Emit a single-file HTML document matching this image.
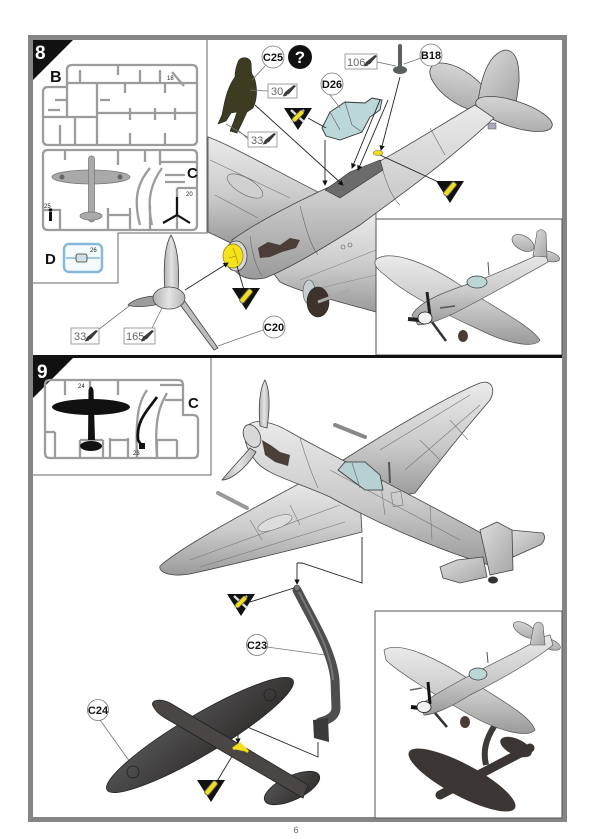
<!DOCTYPE html>
<html><head><meta charset="utf-8"><style>
html,body{margin:0;padding:0;background:#fff;}
svg{display:block;}
text{font-family:"Liberation Sans",sans-serif;}
</style></head><body>
<svg width="600" height="839" viewBox="0 0 600 839" xmlns="http://www.w3.org/2000/svg">
<defs>
<linearGradient id="m1" x1="0" y1="0" x2="0" y2="1"><stop offset="0" stop-color="#eaeaea"/><stop offset="0.55" stop-color="#cacaca"/><stop offset="1" stop-color="#9a9a9a"/></linearGradient>
<linearGradient id="m2" x1="0" y1="0" x2="1" y2="1"><stop offset="0" stop-color="#dcdcdc"/><stop offset="1" stop-color="#a6a6a6"/></linearGradient>
<linearGradient id="m3" x1="0" y1="0" x2="1" y2="0"><stop offset="0" stop-color="#b0b0b0"/><stop offset="0.5" stop-color="#e4e4e4"/><stop offset="1" stop-color="#b4b4b4"/></linearGradient>
<linearGradient id="dk" x1="0" y1="0" x2="1" y2="1"><stop offset="0" stop-color="#555"/><stop offset="1" stop-color="#2f2c2b"/></linearGradient>
<g id="brush"><path d="M0,10 L2,6 L11,-1 L13,0 L6,8 Z" fill="#3a3a3a"/><path d="M0,10 L4,9" stroke="#3a3a3a" stroke-width="1"/></g>
<g id="glue"><polygon points="0,0 28,0 14,22" fill="#111"/><g transform="translate(14,8) rotate(-50)"><rect x="-8" y="-2.6" width="16" height="5.2" rx="2" fill="#f2df1c" stroke="#666" stroke-width="1"/></g></g>
<g id="gluex"><polygon points="0,0 28,0 14,22" fill="#111"/><path d="M7,2 L20,14 M20,2 L7,14" stroke="#ddd" stroke-width="2.5"/><g transform="translate(14,8) rotate(-45)"><rect x="-7" y="-2.3" width="14" height="4.6" rx="2" fill="#f2df1c" stroke="#666" stroke-width="0.8"/></g></g>
<marker id="ar" markerWidth="6" markerHeight="6" refX="5" refY="3" orient="auto"><path d="M0,0 L6,3 L0,6 Z" fill="#111"/></marker>
</defs>

<!-- frame -->
<rect x="30.5" y="37.5" width="534" height="782" fill="none" stroke="#858585" stroke-width="5"/>

<!-- ===== STEP 8 ===== -->
<path d="M207,40 V233 H118 V283 H33" fill="none" stroke="#666" stroke-width="1"/>
<polygon points="33,40 73,40 33,80" fill="#111"/>
<text x="35" y="59" font-size="19" font-weight="bold" fill="#fff">8</text>

<!-- sprue B -->
<g fill="none" stroke="#9c9c9c" stroke-width="2.3">
<path d="M72,65 H192 Q197,65 197,70 V140 Q197,145 192,145 H48 Q43,145 43,140 V92 Q43,87 48,87 H67 V70 Q67,65 72,65 Z"/>
<path d="M67,83 H197 M97,83 V145 M97,113 H197 M43,117 H97 M67,87 V117 M75,117 V145 M60,125 V145"/>
<path d="M80,70 V83 M118,66 V75 M140,70 V83 M160,70 V83 M110,100 H100 M130,108 V120 M155,108 V120 M175,108 V120 M125,83 V93 M165,83 V93 M130,133 V145 M165,133 V145 M55,100 H67 M48,110 H60 M172,72 L184,86"/>
</g>
<text x="50" y="82" font-size="16" font-weight="bold" fill="#111">B</text>
<text x="167" y="80" font-size="6" fill="#222">18</text>

<!-- sprue C -->
<g fill="none" stroke="#9c9c9c" stroke-width="2.3">
<path d="M48,150 H192 Q197,150 197,155 V225 Q197,230 192,230 H48 Q43,230 43,225 V155 Q43,150 48,150 Z"/>
<path d="M65,150 V160 M118,150 V165 M145,150 V162 M160,150 V165 M160,162 H197 M165,175 H185 M165,182 H185 M177,188 V230 M177,188 H197"/>
<path d="M43,210 H60 V230 M108,208 V230 M108,215 H130 M130,208 V230 M150,205 V230"/>
<path d="M150,168 C140,180 132,195 140,225 M162,168 C152,182 146,198 152,225"/>
</g>
<g>
<ellipse cx="91" cy="177" rx="39" ry="7" fill="#a9a9a9" stroke="#7a7a7a" stroke-width="0.8"/>
<rect x="88.5" y="156" width="6" height="66" rx="3" fill="#a9a9a9" stroke="#7a7a7a" stroke-width="0.8"/>
<ellipse cx="91" cy="216" rx="11" ry="4" fill="#a9a9a9" stroke="#7a7a7a" stroke-width="0.8"/>
<circle cx="62" cy="177" r="2.5" fill="#666"/><circle cx="120" cy="177" r="2.5" fill="#666"/>
</g>
<text x="187" y="178" font-size="15" font-weight="bold" fill="#111">C</text>
<text x="186" y="196" font-size="6" fill="#222">20</text>
<path d="M177,215 V197 M177,215 L163,223 M177,215 L190,223" stroke="#111" stroke-width="2.2"/>
<text x="44" y="208" font-size="6" fill="#222">25</text>
<rect x="49" y="212" width="3" height="9" fill="#111"/><circle cx="50.5" cy="210" r="1.8" fill="#111"/>
<!-- D -->
<text x="45" y="264" font-size="15" font-weight="bold" fill="#111">D</text>
<rect x="64" y="244" width="38" height="28" rx="5" fill="#f4f9fc" stroke="#86b9d9" stroke-width="2.5"/>
<path d="M66,258 H100" stroke="#86b9d9" stroke-width="1.5"/>
<rect x="76" y="254" width="11" height="8" rx="2" fill="#cfe1e6" stroke="#333" stroke-width="0.8"/>
<text x="90" y="252" font-size="6" fill="#222">26</text>

<!-- Step 8 main aircraft -->
<path d="M208,137 C230,145 265,165 320,193 L300,210 C275,222 250,235 235,245 L208,232 Z" fill="url(#m1)" stroke="#444" stroke-width="0.8"/>
<ellipse cx="245" cy="186" rx="20" ry="8" transform="rotate(30 245 186)" fill="#d0d0d0" stroke="#666" stroke-width="0.6"/>
<path d="M210,160 L290,198 M215,195 L258,218" stroke="#777" stroke-width="0.6" fill="none"/>
<path d="M268,266 C310,246 345,228 376,212 L376,312 C340,302 300,292 280,282 Z" fill="url(#m1)" stroke="#444" stroke-width="0.8"/>
<path d="M300,280 L376,250 M320,288 L376,275" stroke="#888" stroke-width="0.6"/>
<circle cx="343" cy="247" r="2" fill="none" stroke="#555" stroke-width="0.6"/><circle cx="350" cy="245" r="2" fill="none" stroke="#555" stroke-width="0.6"/>
<ellipse cx="460" cy="87" rx="35" ry="16" transform="rotate(35 460 87)" fill="url(#m2)" stroke="#444" stroke-width="0.8"/>
<path d="M478,102 Q484,55 505,50 Q520,50 519,82 L516,104 Z" fill="url(#m2)" stroke="#444" stroke-width="0.8"/>
<ellipse cx="514" cy="114" rx="40" ry="13" transform="rotate(18 514 114)" fill="url(#m2)" stroke="#444" stroke-width="0.8"/>
<rect x="488" y="123" width="8" height="6" fill="#aab" stroke="#555" stroke-width="0.5"/>
<path d="M232,240 C260,220 300,200 340,182 C390,158 440,125 475,105 L494,118 C450,160 400,195 360,225 C320,250 290,268 265,278 C245,282 232,274 230,258 Z" fill="url(#m1)" stroke="#444" stroke-width="0.8"/>
<path d="M250,236 C252,252 255,265 262,276 M300,206 C305,225 310,245 318,255 M380,160 C385,180 392,198 400,205 M430,128 L445,155" stroke="#666" stroke-width="0.6" fill="none"/>
<path d="M258,248 L268,242 L280,245 L290,238 L300,240 L296,248 L282,252 L270,257 L260,258 Z" fill="#4b3e38"/>
<path d="M325,190 L350,172 L380,160 L383,170 L360,185 L340,198 Z" fill="#6b6b6b" stroke="#333" stroke-width="0.6"/>
<ellipse cx="378" cy="153" rx="5" ry="2.5" fill="#f2df1c" stroke="#555" stroke-width="0.5"/>
<ellipse cx="236" cy="256" rx="11" ry="15" fill="#d8d8d8" stroke="#444" stroke-width="0.8"/>
<ellipse cx="233" cy="256" rx="10" ry="12" fill="#f5e21b" stroke="#8a7d10" stroke-width="0.7"/>
<path d="M233,248 L236,256 L229,258 M236,256 L238,264" stroke="#a89a15" stroke-width="0.8" fill="none"/>
<ellipse cx="309" cy="292" rx="6" ry="12" fill="#c4cdd2" stroke="#555" stroke-width="0.6"/>
<ellipse cx="318" cy="302" rx="11" ry="15" fill="#3e322d" stroke="#222" stroke-width="0.6"/>
<path d="M318,302 L350,290" stroke="#aaa" stroke-width="3"/>

<!-- pilot -->
<path d="M238,62 C240,56 250,56 251,63 C252,69 250,73 254,77 C258,88 257,100 253,108 L247,112 L241,125 L237,133 L230,131 L234,121 L237,112 L231,113 L226,121 L218,124 L222,115 L224,105 C226,95 229,85 235,77 C235,72 236,67 238,62 Z" fill="#3d3b20" stroke="#222" stroke-width="0.6"/>
<!-- canopy D26 -->
<path d="M322,128 L330,112 L345,102 L365,103 L372,98 L382,100 L380,110 L370,117 L362,132 L340,140 L326,136 Z" fill="#bcd7d8" stroke="#333" stroke-width="0.9"/>
<path d="M330,112 L340,130 M345,102 L352,125 L362,132" stroke="#556" stroke-width="0.6" fill="none"/>
<rect x="398" y="44" width="4" height="24" rx="2" fill="#5a6060"/>
<ellipse cx="400" cy="70" rx="7" ry="4" fill="#5a6060"/>

<g stroke="#222" stroke-width="0.9" fill="none">
<path d="M255,105 L343,185" marker-end="url(#ar)"/>
<path d="M325,140 L325,185" marker-end="url(#ar)"/>
<path d="M388,100 L358,170" marker-end="url(#ar)"/>
<path d="M380,100 L352,168" marker-end="url(#ar)"/>
<path d="M400,77 L381,150" marker-end="url(#ar)"/>
<path d="M308,118 L326,128"/>
<path d="M380,155 L445,185"/>
<path d="M185,290 L228,263" marker-end="url(#ar)"/>
<path d="M237,266 L244,290"/>
</g>
<g stroke="#777" stroke-width="0.8" fill="none">
<path d="M266,65 L252,80"/><path d="M268,91 L250,90"/><path d="M249,138 L226,124 M249,140 L238,130"/>
<path d="M377,62 L396,66"/><path d="M421,58 L404,64"/><path d="M330,95 L340,108"/>
<path d="M263,330 L218,346"/><path d="M90,336 L137,300"/><path d="M148,336 L166,300"/>
</g>
<g font-size="11" font-weight="bold" fill="#111" text-anchor="middle">
<circle cx="273" cy="57" r="11" fill="#fff" stroke="#777" stroke-width="0.8"/><text x="273" y="61">C25</text>
<circle cx="332" cy="84" r="11" fill="#fff" stroke="#777" stroke-width="0.8"/><text x="332" y="88">D26</text>
<circle cx="431" cy="55" r="11" fill="#fff" stroke="#777" stroke-width="0.8"/><text x="431" y="59">B18</text>
<circle cx="274" cy="327" r="11" fill="#fff" stroke="#777" stroke-width="0.8"/><text x="274" y="331">C20</text>
</g>
<circle cx="300" cy="57" r="12" fill="#111"/>
<text x="300" y="63" font-size="17" font-weight="bold" fill="#fff" text-anchor="middle">?</text>
<g font-size="11" fill="#666">
<rect x="268" y="84" width="29" height="14" fill="#fff" stroke="#888" stroke-width="0.8"/><text x="271" y="95">30</text><use href="#brush" x="283" y="86"/>
<rect x="248" y="132" width="29" height="15" fill="#fff" stroke="#888" stroke-width="0.8"/><text x="251" y="144">33</text><use href="#brush" x="263" y="134"/>
<rect x="345" y="54" width="32" height="15" fill="#fff" stroke="#888" stroke-width="0.8"/><text x="347" y="66">106</text><use href="#brush" x="364" y="56"/>
<rect x="71" y="328" width="28" height="16" fill="#fff" stroke="#888" stroke-width="0.8"/><text x="74" y="340">33</text><use href="#brush" x="85" y="331"/>
<rect x="124" y="328" width="31" height="16" fill="#fff" stroke="#888" stroke-width="0.8"/><text x="126" y="340">165</text><use href="#brush" x="141" y="331"/>
</g>
<use href="#gluex" x="284" y="108"/>
<use href="#glue" x="436" y="181"/>
<use href="#glue" x="232" y="288"/>

<!-- propeller C20 -->
<path d="M165,292 C163,265 165,245 171,235 C177,245 180,265 178,292 Z" fill="url(#m3)" stroke="#444" stroke-width="0.8"/>
<path d="M157,296 C145,296 132,300 128,305 C135,308 150,306 160,304 Z" fill="#9d9d9d" stroke="#444" stroke-width="0.8"/>
<path d="M178,302 L214,350 L218,348 L184,300 Z" fill="#bdbdbd" stroke="#444" stroke-width="0.8"/>
<ellipse cx="169" cy="298" rx="16" ry="11" fill="url(#m3)" stroke="#444" stroke-width="0.8"/>

<!-- step 8 inset -->
<rect x="376" y="219" width="186" height="136" fill="#fff" stroke="#555" stroke-width="1"/>
<path d="M378,258 C395,250 430,265 460,285 C490,305 530,325 540,340 C535,348 510,345 480,330 C440,312 400,290 385,275 C375,268 372,262 378,258 Z" fill="url(#m1)" stroke="#555" stroke-width="0.7"/>
<ellipse cx="523" cy="243" rx="12" ry="7" transform="rotate(30 523 243)" fill="url(#m2)" stroke="#555" stroke-width="0.6"/>
<ellipse cx="547" cy="256" rx="13" ry="5" transform="rotate(15 547 256)" fill="url(#m2)" stroke="#555" stroke-width="0.6"/>
<path d="M412,315 C420,300 450,290 480,280 C510,268 530,258 545,252 L548,262 C525,275 495,292 470,305 C450,316 430,325 418,325 Z" fill="url(#m1)" stroke="#555" stroke-width="0.7"/>
<path d="M533,256 L537,232 Q542,227 546,233 L547,257 Z" fill="url(#m2)" stroke="#555" stroke-width="0.6"/>
<ellipse cx="477" cy="282" rx="10" ry="6" fill="#bcd6d6" stroke="#333" stroke-width="0.7"/>
<path d="M488,262 L489,275" stroke="#555" stroke-width="1"/>
<path d="M427,292 L430,316" stroke="#222" stroke-width="3"/>
<path d="M432,322 L446,341" stroke="#333" stroke-width="2.5"/>
<path d="M408,319 L420,320" stroke="#222" stroke-width="4"/>
<ellipse cx="425" cy="318" rx="7" ry="6" fill="#f2f2f2" stroke="#222" stroke-width="0.8"/>
<path d="M440,308 L455,306" stroke="#555" stroke-width="1.5"/>
<ellipse cx="463" cy="336" rx="5" ry="6" fill="#4a3c35"/>

<!-- ===== STEP 9 ===== -->
<path d="M33,356.5 H562" stroke="#111" stroke-width="3"/>
<polygon points="33,358 73,358 33,398" fill="#111"/>
<text x="37" y="378" font-size="19" font-weight="bold" fill="#fff">9</text>
<path d="M211,358 V475 H33" fill="none" stroke="#666" stroke-width="1"/>
<g fill="none" stroke="#9c9c9c" stroke-width="2.3">
<path d="M50,380 H178 Q183,380 183,385 V415 H193 Q198,415 198,420 V453 Q198,458 193,458 H50 Q45,458 45,453 V385 Q45,380 50,380 Z"/>
<path d="M65,380 V395 M90,380 V390 M118,380 V395 M45,432 H55 M55,432 V458 M80,440 V458 M103,440 V458 M80,440 H103 M110,438 V458 M128,438 V458 M110,440 H128 M157,440 V458 M177,440 V458 M157,440 H177"/>
<path d="M147,390 C140,400 135,412 137,457 M167,393 C160,405 154,418 157,457"/>
<path d="M160,385 H183 M165,400 H183"/>
</g>
<ellipse cx="91" cy="407" rx="39" ry="8" fill="#111"/>
<path d="M88.5,390 Q91,383 93.5,390 L95,440 L88,440 Z" fill="#111"/>
<ellipse cx="91" cy="446" rx="11" ry="5" fill="#111"/>
<text x="78" y="388" font-size="6" fill="#222">24</text>
<path d="M157,397 C148,410 136,420 138,440 L142,446" fill="none" stroke="#111" stroke-width="2.8"/>
<rect x="139" y="443" width="6" height="6" fill="#111"/>
<text x="133" y="455" font-size="6" fill="#222">23</text>
<text x="188" y="408" font-size="15" font-weight="bold" fill="#111">C</text>

<!-- step 9 main aircraft -->
<path d="M340,462 C390,430 450,395 480,383 C492,379 496,390 490,400 C460,435 440,460 415,493 L395,497 Z" fill="url(#m1)" stroke="#444" stroke-width="0.8"/>
<path d="M380,450 L470,395 M405,470 L480,405 M420,440 L440,460 M450,420 L468,440" stroke="#777" stroke-width="0.6" fill="none"/>
<path d="M335,425 L365,437" stroke="#888" stroke-width="4" stroke-linecap="round"/>
<path d="M160,566 C180,548 240,515 310,478 L360,500 L362,532 C300,548 230,565 190,574 C172,577 158,573 160,566 Z" fill="url(#m1)" stroke="#444" stroke-width="0.8"/>
<path d="M190,560 L340,505 M200,567 L345,522 M250,520 L262,540 M290,505 L300,525" stroke="#777" stroke-width="0.6" fill="none"/>
<ellipse cx="275" cy="523" rx="18" ry="6" transform="rotate(-20 275 523)" fill="#dcdcdc" stroke="#666" stroke-width="0.5"/>
<path d="M218,493 L247,508" stroke="#999" stroke-width="4" stroke-linecap="round"/>
<path d="M510,530 L543,533 C546,537 544,543 540,545 L513,557 Z" fill="url(#m2)" stroke="#444" stroke-width="0.8"/>
<path d="M247,428 C250,418 270,420 290,432 C330,455 400,488 503,545 L500,568 C450,555 380,525 330,497 C300,483 265,475 255,460 C245,448 243,436 247,428 Z" fill="url(#m1)" stroke="#444" stroke-width="0.8"/>
<path d="M300,438 C305,455 310,470 318,488 M380,478 L385,515 M430,505 L432,540 M330,470 L460,540" stroke="#777" stroke-width="0.6" fill="none"/>
<rect x="392" y="492" width="10" height="14" transform="rotate(-10 397 499)" fill="none" stroke="#777" stroke-width="0.6"/>
<path d="M480,530 L497,522 L512,530 L513,570 L490,575 Z" fill="url(#m2)" stroke="#444" stroke-width="0.8"/>
<path d="M440,567 L457,560 L483,557 L487,577 L460,583 L443,578 Z" fill="url(#m2)" stroke="#444" stroke-width="0.8"/>
<ellipse cx="493" cy="580" rx="5" ry="3.5" fill="#333"/>
<path d="M262,440 L272,446 L280,452 L290,455 L288,466 L275,462 L265,455 Z" fill="#4b3f3a"/>
<path d="M338,470 L345,462 L365,462 L380,475 L383,490 L365,490 Z" fill="#b7d1d3" stroke="#333" stroke-width="0.8"/>
<path d="M352,463 L360,488" stroke="#567" stroke-width="0.6"/>
<path d="M389,462 L390,483" stroke="#555" stroke-width="2"/>
<path d="M260,426 C258,405 260,388 265,380 C270,390 270,408 267,428 Z" fill="url(#m3)" stroke="#444" stroke-width="0.8"/>
<path d="M250,448 C240,460 228,472 222,480 C230,480 245,470 256,452 Z" fill="url(#m3)" stroke="#444" stroke-width="0.8"/>
<ellipse cx="252" cy="436" rx="8" ry="12" fill="#d8d8d8" stroke="#444" stroke-width="0.8" transform="rotate(-25 252 436)"/>

<g stroke="#222" stroke-width="0.9" fill="none">
<path d="M297,563 L297,584" marker-end="url(#ar)"/>
<path d="M297,563 H302 L362,583 V537"/>
<path d="M318,742 V757 L238,723 V743" marker-end="url(#ar)"/>
<path d="M297,587 L250,602"/>
<path d="M237,748 L213,788"/>
</g>
<g stroke="#777" stroke-width="0.8" fill="none">
<path d="M267,647 L325,655"/><path d="M100,720 L130,762"/>
</g>
<path d="M297,590 C312,620 332,650 335,680 L336,708 C336,716 328,720 320,722" fill="none" stroke="#4e4e4e" stroke-width="9" stroke-linecap="round"/>
<path d="M299,592 C313,620 331,650 333,680" fill="none" stroke="#777" stroke-width="2"/>
<path d="M313,720 L328,718 L329,742 L314,738 Z" fill="#3a3a3a"/>
<circle cx="297" cy="588" r="3" fill="#777" stroke="#333" stroke-width="0.6"/>

<ellipse cx="200" cy="735" rx="108" ry="20" transform="rotate(-30.6 200 735)" fill="url(#dk)" stroke="#222" stroke-width="0.8"/>
<ellipse cx="292" cy="788" rx="30" ry="12" transform="rotate(-25 292 788)" fill="url(#dk)" stroke="#222" stroke-width="0.8"/>
<path d="M153,706 C150,700 160,698 170,703 L308,785 L303,798 L165,718 C158,714 155,710 153,706 Z" fill="#4a4644" stroke="#222" stroke-width="0.8"/>
<circle cx="133" cy="772" r="6" fill="none" stroke="#222" stroke-width="0.8"/>
<circle cx="270" cy="695" r="6" fill="none" stroke="#222" stroke-width="0.8"/>
<path d="M233,749 L240,744 L248,752" fill="#f2df1c" stroke="#f2df1c" stroke-width="3"/>
<use href="#gluex" x="227" y="594"/>
<use href="#glue" x="197" y="780"/>

<g font-size="11" font-weight="bold" fill="#111" text-anchor="middle">
<circle cx="257" cy="645" r="10.5" fill="#fff" stroke="#777" stroke-width="0.8"/><text x="257" y="649">C23</text>
<circle cx="98" cy="710" r="10.5" fill="#fff" stroke="#777" stroke-width="0.8"/><text x="98" y="714">C24</text>
</g>

<!-- step 9 inset -->
<rect x="375" y="611" width="187" height="207" fill="#fff" stroke="#555" stroke-width="1"/>
<ellipse cx="462" cy="780" rx="60" ry="16" transform="rotate(28 462 780)" fill="#3b3633"/>
<path d="M440,795 L530,748" stroke="#3b3633" stroke-width="9" stroke-linecap="round"/>
<ellipse cx="516" cy="747" rx="17" ry="8" transform="rotate(25 516 747)" fill="#3b3633"/>
<path d="M495,725 C485,740 483,752 486,765" fill="none" stroke="#3e3a38" stroke-width="6"/>
<path d="M384,650 C400,640 440,660 470,680 C500,700 530,715 535,730 C528,738 500,732 470,715 C435,695 395,670 386,660 Z" fill="url(#m1)" stroke="#555" stroke-width="0.7"/>
<ellipse cx="525" cy="630" rx="13" ry="6" transform="rotate(30 525 630)" fill="url(#m2)" stroke="#555" stroke-width="0.6"/>
<ellipse cx="549" cy="644" rx="12" ry="5" transform="rotate(20 549 644)" fill="url(#m2)" stroke="#555" stroke-width="0.6"/>
<path d="M420,705 C440,690 480,670 510,655 C530,645 545,635 550,635 L553,645 C535,660 500,680 470,695 C450,708 432,715 424,715 Z" fill="url(#m1)" stroke="#555" stroke-width="0.7"/>
<path d="M530,645 L534,625 Q539,619 543,625 L545,645 Z" fill="url(#m2)" stroke="#555" stroke-width="0.6"/>
<ellipse cx="478" cy="674" rx="9" ry="6" fill="#bcd6d6" stroke="#333" stroke-width="0.7"/>
<path d="M487,652 L488,663" stroke="#555" stroke-width="1"/>
<path d="M428,682 L430,704" stroke="#111" stroke-width="3"/>
<path d="M435,713 L447,727" stroke="#333" stroke-width="2.5"/>
<path d="M411,707 L420,708" stroke="#111" stroke-width="4"/>
<ellipse cx="424" cy="707" rx="7" ry="5.5" fill="#f2f2f2" stroke="#222" stroke-width="0.8"/>
<path d="M410,690 L422,688" stroke="#666" stroke-width="1.5"/>
<ellipse cx="465" cy="722" rx="5" ry="6" fill="#4a3c35"/>

<text x="296" y="833" font-size="9" fill="#666" text-anchor="middle">6</text>
</svg>
</body></html>
